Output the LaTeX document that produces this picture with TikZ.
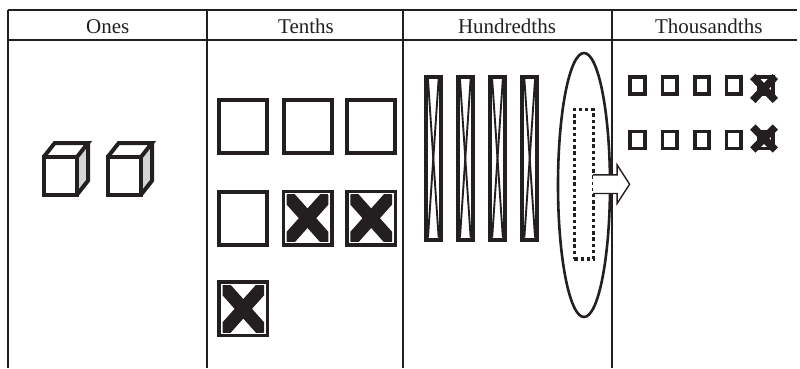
\documentclass[tikz,border=0pt]{standalone}
\usepackage{fontspec}
\setmainfont{Liberation Serif}
\usetikzlibrary{calc,shapes.geometric}
\definecolor{ink}{HTML}{231F20}
\definecolor{side}{HTML}{D4D4D4}
\tikzset{
  tbl/.style={ink,line width=1.3pt},
  hdrline/.style={ink,line width=2.6pt},
  hdr/.style={anchor=base,inner sep=0pt,font=\fontsize{21}{24}\selectfont,text=ink},
  cubeln/.style={ink,line width=4pt,line join=miter},
  tsq/.style={draw=ink,line width=4pt,rectangle,minimum width=48pt,minimum height=53pt,inner sep=0pt},
  tsqx/.style={draw=ink,line width=3.4pt,rectangle,minimum width=48.6pt,minimum height=53.6pt,inner sep=0pt},
  hbar/.style={draw=ink,line width=4pt,rectangle,minimum width=14.7pt,minimum height=162.7pt,inner sep=0pt},
  ksq/.style={draw=ink,line width=3.8pt,rectangle,minimum width=14.5pt,minimum height=17pt,inner sep=0pt},
  xarm/.style={ink,line width=13pt},
  kxarm/.style={ink,line width=7.5pt},
  thin/.style={ink,line width=1.4pt},
  barline/.style={ink,line width=1.9pt},
}
\newcommand{\bigx}[1]{%
  \begin{scope}
    \clip ($(#1.north west)+(5.2,5.2)$) rectangle ($(#1.south east)+(-5.2,-5.2)$);
    \draw[xarm] ($(#1.north west)+(5.2,5.2)$) -- ($(#1.south east)+(-5.2,-5.2)$);
    \draw[xarm] ($(#1.north east)+(-5.2,5.2)$) -- ($(#1.south west)+(5.2,-5.2)$);
  \end{scope}}
\newcommand{\barx}[1]{%
  \draw[barline] ($(#1.north west)+(4,4)$) -- ($(#1.south east)+(-4,-4)$);
  \draw[barline] ($(#1.north east)+(-4,4)$) -- ($(#1.south west)+(4,-4)$);}
\newcommand{\cube}[2]{%
  \fill[side] (#1+33.3,#2) -- (#1+44.3,#2-14) -- (#1+44.3,#2+23.7) -- (#1+33.3,#2+37.7) -- cycle;
  \draw[cubeln] (#1,#2) rectangle (#1+33.3,#2+37.7);
  \draw[cubeln] (#1,#2) -- (#1+11,#2-14) -- (#1+44.3,#2-14) -- (#1+33.3,#2);
  \draw[cubeln] (#1+44.3,#2-14) -- (#1+44.3,#2+23.7) -- (#1+33.3,#2+37.7);}
\begin{document}
\begin{tikzpicture}[x=1pt,y=-1pt]
\useasboundingbox (0,0) rectangle (800,368);
% table
\coordinate (tl) at (8,10);
\coordinate (tr) at (797,10);
\coordinate (hl) at (8,40);
\coordinate (hr) at (797,40);
\draw[tbl] (tl) -- (tr);
\draw[hdrline] (hl) -- (hr);
\foreach \xx/\nm in {8/a,207/b,403/c,612/d}{
  \coordinate (v\nm t) at (\xx,10);
  \coordinate (v\nm b) at (\xx,368);
  \draw[tbl] (v\nm t) -- (v\nm b);
}
% headers
\node[hdr] (h1) at (107.7,33.5) {Ones};
\node[hdr] (h2) at (306,33.5) {Tenths};
\node[hdr] (h3) at (507,33.5) {Hundredths};
\node[hdr] (h4) at (708.8,33.5) {Thousandths};
% ones
\cube{43.7}{157}
\cube{107.7}{157}
% tenths
\node[tsq] (t1) at (243.3,126.7) {};
\node[tsq] (t2) at (307.5,126.7) {};
\node[tsq] (t3) at (371.2,126.7) {};
\node[tsq] (t4) at (243.3,218.2) {};
\node[tsqx] (t5) at (307.5,218.2) {};
\node[tsqx] (t6) at (371.2,218.2) {};
\node[tsqx] (t7) at (243.3,308.8) {};
\bigx{t5}\bigx{t6}\bigx{t7}
% hundredths
\foreach \xx/\nm in {433.3/b1,465.3/b2,497.5/b3,529.7/b4}{
  \node[hbar] (\nm) at (\xx,158.3) {};
  \barx{\nm}
}
\node[draw=ink,line width=2.6pt,ellipse,minimum width=52pt,minimum height=264pt,inner sep=0pt] (ell) at (584,185) {};
\node[draw=ink,line width=3.6pt,dash pattern=on 3.4pt off 2.8pt,rectangle,minimum width=19pt,minimum height=149.5pt,inner sep=0pt] (dr) at (583.8,184.2) {};
% thousandths
\foreach \xx/\i in {637.5/1,669.7/2,702/3,733.8/4,765.8/5}{
  \node[ksq] (ka\i) at (\xx,85.5) {};
  \node[ksq] (kb\i) at (\xx,140) {};
}
\draw[kxarm] ($(ka5)+(-13,-9)$) -- ($(ka5)+(9.5,15)$);
\draw[kxarm] ($(ka5)+(9.5,-9)$) -- ($(ka5)+(-13,15)$);
\draw[kxarm] ($(kb5)+(-13,-13)$) -- ($(kb5)+(9.5,10)$);
\draw[kxarm] ($(kb5)+(9.5,-13)$) -- ($(kb5)+(-13,10)$);
% block arrow
\coordinate (as) at ($(dr.east)+(-2,0)$);
\draw[thin,fill=white,line join=miter] ($(as)+(0,-9.3)$) -- ($(as)+(24,-9.3)$) -- ($(as)+(24,-19.3)$)
  -- ($(as)+(36.5,0)$) -- ($(as)+(24,19.3)$) -- ($(as)+(24,9.3)$) -- ($(as)+(0,9.3)$);
\end{tikzpicture}
\end{document}
